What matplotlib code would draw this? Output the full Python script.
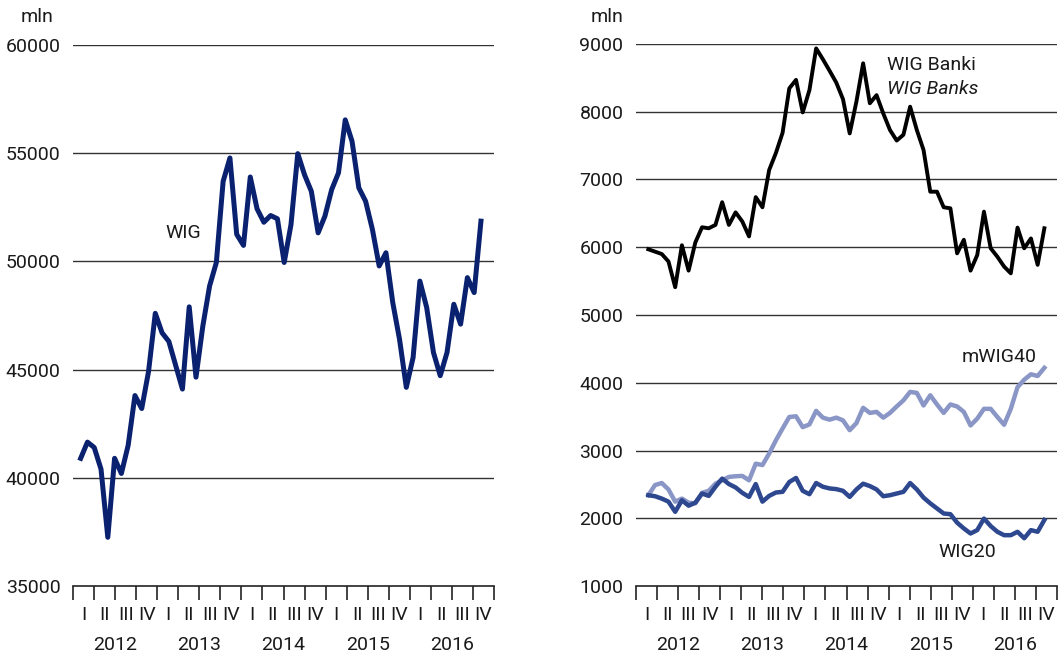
import numpy as np
import matplotlib
matplotlib.use("Agg")
import matplotlib.pyplot as plt
import matplotlib.transforms as mtransforms

plt.rcParams['font.family'] = ['Roboto', 'DejaVu Sans']

years = ['2012', '2013', '2014', '2015', '2016']
quarters = ['I', 'II', 'III', 'IV']

wig = [40900, 41650, 41400, 40400, 37250, 40900, 40200, 41500, 43800, 43200,
       44900, 47600, 46700, 46300, 45200, 44100, 47900, 44650, 47000, 48860,
       49950, 53700, 54780, 51250, 50740, 53900, 52430, 51810, 52120, 51970,
       49950, 51700, 54980, 54000, 53240, 51320, 52090, 53320, 54090, 56540,
       55550, 53400, 52780, 51480, 49790, 50400, 48100, 46400, 44180, 45560,
       49090, 47870, 45790, 44720, 45790, 48020, 47100, 49250, 48560, 51860]

wig_banki = [5970, 5935, 5900, 5790, 5410, 6030, 5655, 6070, 6295, 6280,
             6330, 6665, 6330, 6515, 6380, 6160, 6740, 6590, 7140, 7390,
             7690, 8345, 8470, 7990, 8320, 8935, 8775, 8605, 8430, 8185,
             7680, 8150, 8715, 8125, 8245, 7975, 7730, 7575, 7660, 8075,
             7730, 7435, 6820, 6820, 6590, 6575, 5910, 6110, 5655, 5885,
             6525, 5985, 5860, 5715, 5615, 6290, 5985, 6130, 5740, 6280]

mwig40 = [2340, 2490, 2520, 2425, 2245, 2290, 2230, 2220, 2375, 2405,
          2510, 2560, 2610, 2620, 2625, 2560, 2805, 2785, 2955, 3150,
          3325, 3495, 3505, 3345, 3385, 3585, 3485, 3455, 3485, 3445,
          3300, 3405, 3630, 3555, 3570, 3485, 3555, 3650, 3740, 3865,
          3850, 3665, 3815, 3680, 3555, 3680, 3650, 3570, 3370, 3470,
          3615, 3615, 3495, 3380, 3615, 3935, 4045, 4125, 4100, 4220]

wig20 = [2340, 2325, 2290, 2245, 2095, 2265, 2185, 2230, 2365, 2330,
         2465, 2585, 2505, 2455, 2375, 2315, 2505, 2245, 2330, 2380,
         2390, 2535, 2595, 2405, 2355, 2520, 2465, 2440, 2430, 2405,
         2315, 2425, 2510, 2475, 2425, 2325, 2340, 2365, 2390, 2520,
         2425, 2305, 2220, 2145, 2070, 2060, 1935, 1850, 1775, 1825,
         1995, 1885, 1800, 1750, 1750, 1800, 1705, 1825, 1800, 1975]

FIG_W, FIG_H = 1061, 660
FS = 14
fig = plt.figure(figsize=(FIG_W / 100, FIG_H / 100), dpi=100)


def make_axes(px_left, px_right, px_top, px_bottom):
    return fig.add_axes([px_left / FIG_W, (FIG_H - px_bottom) / FIG_H,
                         (px_right - px_left) / FIG_W, (px_bottom - px_top) / FIG_H])


def style_axes(ax, ymin, ymax, ystep, xmin, xmax):
    ax.set_ylim(ymin, ymax)
    ax.set_xlim(xmin, xmax)
    for s in ['top', 'right', 'left']:
        ax.spines[s].set_visible(False)
    ax.spines['bottom'].set_color('#222222')
    ax.spines['bottom'].set_linewidth(1.2)
    yt = np.arange(ymin, ymax + 1, ystep)
    ax.set_yticks(yt)
    ax.set_yticklabels([f"{int(v)}" for v in yt], fontsize=FS, color='#1a1a1a')
    ax.tick_params(axis='y', length=0, pad=9)
    for v in yt[1:]:
        ax.axhline(v, color='#333333', lw=1.0, zorder=1)
    nq = len(years) * len(quarters)
    bounds = np.linspace(xmin, xmax, nq + 1)
    ax.set_xticks(bounds)
    ax.set_xticklabels([])
    ax.tick_params(axis='x', length=10, width=1.2, color='#222222', direction='out')
    trans = mtransforms.blended_transform_factory(ax.transData, ax.transAxes)
    centers = (bounds[:-1] + bounds[1:]) / 2
    for i, c in enumerate(centers):
        ax.text(c, -0.054, quarters[i % 4], transform=trans, ha='center', va='center',
                fontsize=FS, color='#1a1a1a')
    for j, yr in enumerate(years):
        c = (bounds[4 * j] + bounds[4 * j + 4]) / 2
        ax.text(c, -0.109, yr, transform=trans, ha='center', va='center',
                fontsize=FS, color='#1a1a1a')


# ---------- left panel ----------
axL = make_axes(73, 494, 45, 586)
n = len(wig)
x = np.arange(n)
stepL = (19.38 - 0.364) / (n - 1)
xminL = -0.364 / stepL
xmaxL = xminL + 20 / stepL
style_axes(axL, 35000, 60000, 5000, xminL, xmaxL)
axL.plot(x, wig, color='#0a2170', lw=3.6, solid_joinstyle='round', zorder=3, clip_on=False)
fig.text(183 / FIG_W, (FIG_H - 233) / FIG_H, 'WIG',
         ha='center', va='center', fontsize=FS, color='#1a1a1a')
fig.text(37 / FIG_W, (FIG_H - 17) / FIG_H, 'mln', ha='center', va='center',
         fontsize=FS, color='#1a1a1a')

# ---------- right panel ----------
axR = make_axes(636, 1057, 44, 586)
stepR = (19.40 - 0.586) / (n - 1)
xminR = -0.586 / stepR
xmaxR = xminR + 20 / stepR
style_axes(axR, 1000, 9000, 1000, xminR, xmaxR)
axR.plot(x, mwig40, color='#8a96c6', lw=3.2, solid_joinstyle='round', zorder=3)
axR.plot(x, wig20, color='#2e4890', lw=3.2, solid_joinstyle='round', zorder=4)
axR.plot(x, wig_banki, color='#000000', lw=2.8, solid_joinstyle='round', zorder=5)
fig.text(607 / FIG_W, (FIG_H - 17) / FIG_H, 'mln', ha='center', va='center',
         fontsize=FS, color='#1a1a1a')
fig.text(887 / FIG_W, (FIG_H - 65) / FIG_H, 'WIG Banki', ha='left', va='center',
         fontsize=FS, color='#1a1a1a')
fig.text(887 / FIG_W, (FIG_H - 89) / FIG_H, 'WIG Banks', ha='left', va='center',
         fontsize=FS, color='#1a1a1a', style='italic')
fig.text(962 / FIG_W, (FIG_H - 357) / FIG_H, 'mWIG40', ha='left', va='center',
         fontsize=FS, color='#1a1a1a')
fig.text(938 / FIG_W, (FIG_H - 552) / FIG_H, 'WIG20', ha='left', va='center',
         fontsize=FS, color='#1a1a1a')

fig.savefig('out.png', dpi=100)
